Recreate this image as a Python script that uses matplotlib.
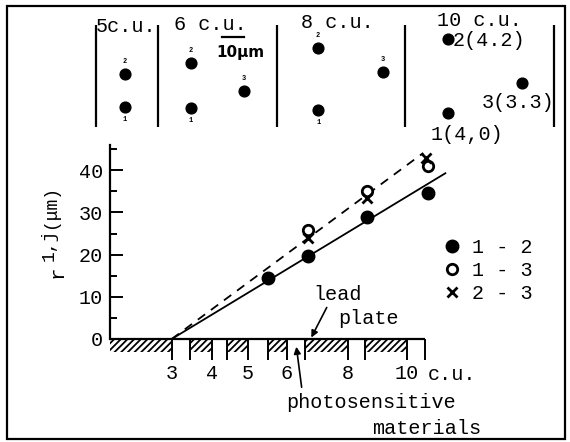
import numpy as np
import matplotlib
matplotlib.use("Agg")
import matplotlib.pyplot as plt
from matplotlib.patches import Rectangle, FancyArrowPatch

plt.rcParams['font.family'] = ['Liberation Mono', 'DejaVu Sans']
plt.rcParams['hatch.linewidth'] = 1.3

# distances r_ij (um) vs absorber thickness (c.u.)
cu_12 = [5.5, 6.7, 8.65, 10.7]
r_12 = [14.5, 19.7, 28.9, 34.6]
cu_13 = [6.7, 8.65, 10.7]
r_13 = [25.8, 35.1, 41.0]
cu_23 = [6.7, 8.65, 10.65]
r_23 = [24.0, 33.4, 43.0]

# fitted lines
fit_cu_solid = [3, 11.3]
fit_r_solid = [0, 39.3]
fit_cu_dash = [3, 10.55]
fit_r_dash = [0, 44.1]

# lead plates / photosensitive layers along the axis (c.u.)
lead_left = [0, 3.46, 4.42, 5.51, 6.59, 8.58]
lead_right = [3, 4, 5, 6, 8, 10]
walls = [3, 3.46, 4, 4.42, 5, 5.51, 6, 6.59, 8, 8.58, 10, 10.61]
xtick_vals = [3, 4, 5, 6, 8, 10]
xtick_labels = ['3', '4', '5', '6', '8', '10']

# the axis is drawn schematically: c.u. -> drawing position
cu_anchor = np.array([0, 3, 4, 5, 6, 8, 10, 12])
pos_anchor = np.array([0, 61.7, 101.7, 138, 177, 238, 297, 356])

# spot patterns (um) in the upper panel
spot_x = [13.5, 13.5, 44.2, 44.2, 68.8, 103.3, 103.3, 133.5, 163.7, 163.7, 198.1]
spot_y = [13.0, 28.4, 12.6, 33.5, 20.5, 11.6, 40.5, 29.3, 10.2, 44.7, 24.2]
spot_id = ['1', '2', '1', '2', '3', '1', '2', '3', '', '', '']
panel_sep = [0, 28.8, 84.2, 143.7, 213]

FS = 14.5


def fwd(v):
    v = np.asarray(v, dtype=float)
    out = np.interp(v, cu_anchor, pos_anchor)
    out = np.where(v > cu_anchor[-1], pos_anchor[-1] + (v - cu_anchor[-1]) * 29.5, out)
    out = np.where(v < 0, v * 20.6, out)
    return out


def inv(p):
    p = np.asarray(p, dtype=float)
    out = np.interp(p, pos_anchor, cu_anchor)
    out = np.where(p > pos_anchor[-1], cu_anchor[-1] + (p - pos_anchor[-1]) / 29.5, out)
    out = np.where(p < 0, p / 20.6, out)
    return out


W, H = 570, 442


def fx(px):
    return px / W


def fy(py):
    return 1 - py / H


fig = plt.figure(figsize=(5.7, 4.42), dpi=100)
fig.add_artist(Rectangle((fx(7), fy(439)), fx(565) - fx(7), fy(6) - fy(439),
                         transform=fig.transFigure, fill=False, lw=1.6, color='black'))

# ---- upper panel: spot patterns
ax_top = fig.add_axes([fx(96), fy(135), 458 / W, 115 / H])
ax_top.set_xlim(0, 213)
ax_top.set_ylim(0, 53.5)
ax_top.axis('off')
ax_top.vlines(panel_sep, 3.7, 51.0, color='black', lw=1.6, clip_on=False)
ax_top.scatter(spot_x, spot_y, s=60, color='black', clip_on=False)
for x, y, lab in zip(spot_x, spot_y, spot_id):
    if lab == '':
        continue
    dy = -9 if lab == '1' else 9
    ax_top.annotate(lab, (x, y), xytext=(0, dy), textcoords='offset points',
                    ha='center', va='center', fontsize=5, fontweight='bold')
# 10 um scale bar
ax_top.plot([58.6, 68.6], [45.6, 45.6], color='black', lw=1.6, clip_on=False)

fig.text(fx(126), fy(26), '5c.u.', ha='center', va='center', fontsize=FS)
fig.text(fx(210), fy(25), '6 c.u.', ha='center', va='center', fontsize=FS)
fig.text(fx(337), fy(22), '8 c.u.', ha='center', va='center', fontsize=FS)
fig.text(fx(479), fy(20), '10 c.u.', ha='center', va='center', fontsize=FS)
fig.text(fx(240), fy(52), '10μm', ha='center', va='center', fontsize=11,
         family='DejaVu Sans', fontweight='bold')
fig.text(fx(453), fy(40), '2(4.2)', ha='left', va='center', fontsize=FS)
fig.text(fx(518), fy(103), '3(3.3)', ha='center', va='center', fontsize=FS)
fig.text(fx(467), fy(134), '1(4,0)', ha='center', va='center', fontsize=FS)

# ---- main plot
ax = fig.add_axes([fx(110), fy(339), 356 / W, 194 / H])
ax.set_xscale('function', functions=(fwd, inv))
ax.set_xlim(0, 12)
ax.set_ylim(0, 46)
for s in ['top', 'right', 'bottom']:
    ax.spines[s].set_visible(False)
ax.spines['left'].set_linewidth(1.6)

ax.plot(fit_cu_solid, fit_r_solid, color='black', lw=1.3, clip_on=False)
ax.plot(fit_cu_dash, fit_r_dash, color='black', lw=1.3, ls=(0, (5, 4)), clip_on=False)
ax.plot(cu_12, r_12, 'o', color='black', ms=9, clip_on=False, label='1 - 2')
ax.plot(cu_13, r_13, 'o', mfc='white', mec='black', mew=2, ms=7.5, clip_on=False, label='1 - 3')
ax.plot(cu_23, r_23, 'x', color='black', mew=2, ms=6.5, clip_on=False, label='2 - 3')

ax.hlines(0, 0, walls[-1], color='black', lw=1.6, clip_on=False)
widths = [r - l for l, r in zip(lead_left, lead_right)]
ax.bar(lead_left, [3] * len(lead_left), width=widths, bottom=-3, align='edge',
       fill=False, hatch='/////', edgecolor='black', lw=0, clip_on=False)
ax.vlines(walls, -5, 0, color='black', lw=1.4, clip_on=False)

ax.set_yticks([0, 10, 20, 30, 40])
ax.set_yticks([5, 15, 25, 35, 45], minor=True)
ax.tick_params(axis='y', which='major', direction='in', length=9, width=1.4,
               labelsize=FS, pad=5)
ax.tick_params(axis='y', which='minor', direction='in', length=5, width=1.4)
ax.set_xticks(xtick_vals)
ax.set_xticklabels(xtick_labels)
ax.xaxis.set_minor_locator(matplotlib.ticker.NullLocator())
ax.tick_params(axis='x', length=0, labelsize=FS, pad=18)

ax.legend(loc='upper left', bbox_to_anchor=(fx(444), fy(238)), bbox_transform=fig.transFigure,
          frameon=False, fontsize=FS, handlelength=0.8, handletextpad=0.6,
          labelspacing=0.2, borderpad=0, borderaxespad=0)

# y label: r_{1,j} (um)
fig.text(fx(57), fy(272), 'r', rotation=90, ha='center', va='center', fontsize=15)
fig.text(fx(49), fy(245), '1,j', rotation=90, ha='center', va='center', fontsize=13)
fig.text(fx(51), fy(207), '(μm)', rotation=90, ha='center', va='center', fontsize=13)

fig.text(fx(452), fy(375), 'c.u.', ha='center', va='center', fontsize=FS)
fig.text(fx(338), fy(295), 'lead', ha='center', va='center', fontsize=FS)
fig.text(fx(369), fy(318), 'plate', ha='center', va='center', fontsize=FS)
fig.text(fx(371), fy(402), 'photosensitive', ha='center', va='center', fontsize=FS)
fig.text(fx(427), fy(428), 'materials', ha='center', va='center', fontsize=FS)
fig.add_artist(FancyArrowPatch(
    (fx(328), fy(305)), (fx(310), fy(340)), transform=fig.transFigure,
    arrowstyle='-|>', mutation_scale=10, lw=1.2, color='black'))
fig.add_artist(FancyArrowPatch(
    (fx(302), fy(390)), (fx(296), fy(344)), transform=fig.transFigure,
    arrowstyle='-|>', mutation_scale=10, lw=1.2, color='black'))

fig.savefig('out.png', dpi=100)
